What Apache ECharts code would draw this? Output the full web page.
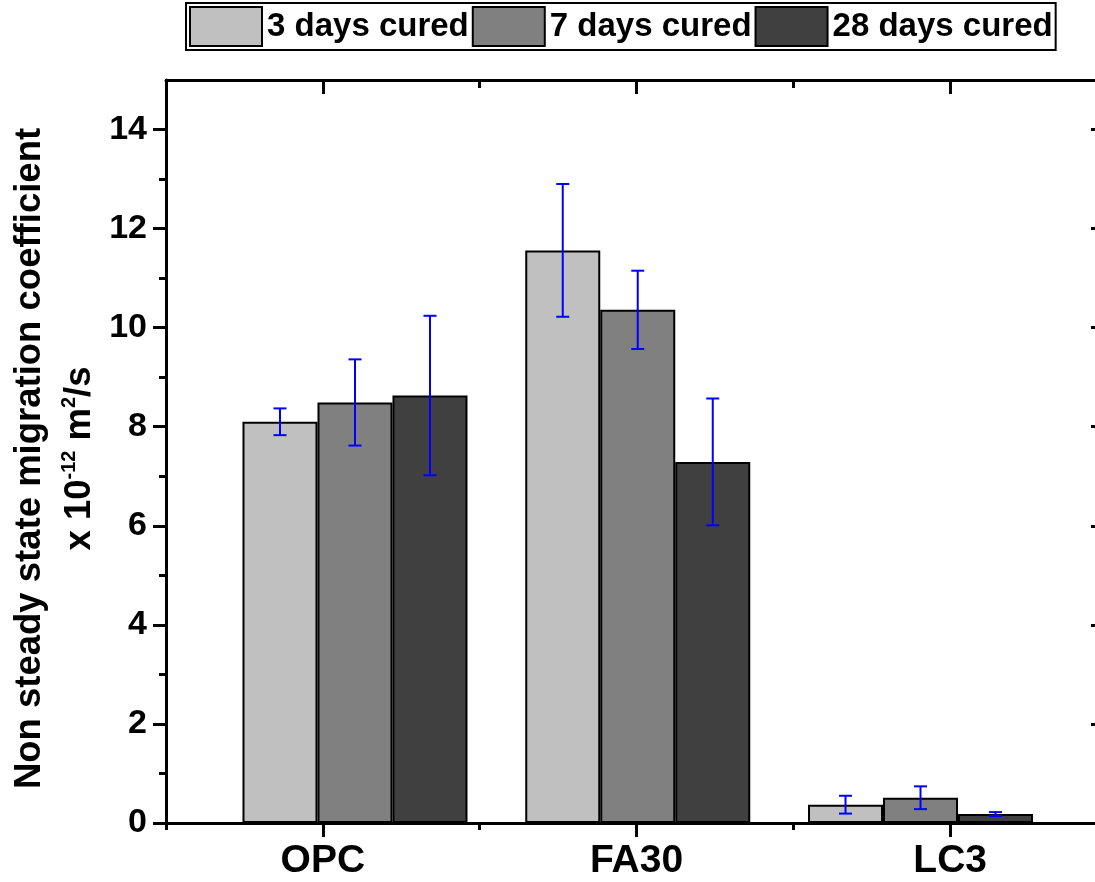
<!DOCTYPE html>
<html>
<head>
<meta charset="utf-8">
<script src="https://cdn.jsdelivr.net/npm/echarts@6/dist/echarts.min.js"></script>
<style>
  html, body { margin: 0; padding: 0; background: #fff; }
  #chart { width: 1095px; height: 882px; }
</style>
</head>
<body>
<div id="chart"></div>
<script>
// ---- data ----
const categories = ['OPC', 'FA30', 'LC3'];
const seriesNames = ['3 days cured', '7 days cured', '28 days cured'];
const days3 = [8.10, 11.56, 0.37];
const days7 = [8.49, 10.36, 0.51];
const days28 = [8.63, 7.29, 0.18];
const err3 = [0.27, 1.34, 0.18];
const err7 = [0.87, 0.79, 0.23];
const err28 = [1.61, 1.28, 0.04];
const yMajorTicks = [0, 2, 4, 6, 8, 10, 12, 14];
const yMinorTicks = [1, 3, 5, 7, 9, 11, 13];

// ---- styles ----
const FONT = '"Liberation Sans", Arial, sans-serif';
const barColors = ['#c0c0c0', '#808080', '#404040'];
const BAR_W = 75;
const CAP = 13;
function ax() { return { color: '#000', width: 3 }; }

const chart = echarts.init(document.getElementById('chart'), null, { renderer: 'canvas' });

function barSeries(name, values, idx) {
  return {
    type: 'bar', name: name, data: values,
    xAxisIndex: 4, yAxisIndex: 4,
    barWidth: BAR_W, barGap: '0%',
    itemStyle: { color: barColors[idx], borderColor: '#000', borderWidth: 2 },
    z: 2
  };
}

function errSeries(values, errs, idx) {
  return {
    type: 'custom', name: 'err' + idx,
    xAxisIndex: 4, yAxisIndex: 4, z: 5,
    data: values.map((v, i) => [i, v - errs[i], v + errs[i]]),
    encode: { x: 0, y: [1, 2] },
    renderItem: function (params, api) {
      const lo = api.coord([api.value(0), api.value(1)]);
      const hi = api.coord([api.value(0), api.value(2)]);
      const x = lo[0] + (idx - 1) * BAR_W;
      const c = CAP / 2;
      const st = { stroke: '#0000ff', lineWidth: 2 };
      return {
        type: 'group',
        children: [
          { type: 'line', shape: { x1: x, y1: hi[1], x2: x, y2: lo[1] }, style: st },
          { type: 'line', shape: { x1: x - c, y1: hi[1], x2: x + c, y2: hi[1] }, style: st },
          { type: 'line', shape: { x1: x - c, y1: lo[1], x2: x + c, y2: lo[1] }, style: st }
        ]
      };
    }
  };
}

const option = {
  backgroundColor: '#fff',
  animation: false,
  textStyle: { fontFamily: FONT },
  legend: {
    data: seriesNames,
    left: 186, top: 3,
    icon: 'rect',
    itemWidth: 72, itemHeight: 39, itemGap: 3,
    padding: [3, 3, 3, 3],
    borderColor: '#000', borderWidth: 2,
    textStyle: { fontFamily: FONT, fontSize: 33, fontWeight: 'bold', color: '#000' }
  },
  grid: [
    { left: 166, top: 80, width: 941, height: 743, containLabel: false, outerBoundsMode: 'none' },
    { left: 213.6, top: 80, width: 848.3, height: 743, containLabel: false, outerBoundsMode: 'none' }
  ],
  xAxis: [
    { // bottom main
      type: 'category', gridIndex: 0, position: 'bottom', data: categories,
      axisLine: { show: true, onZero: false, lineStyle: ax() },
      axisTick: { show: true, alignWithLabel: true, length: 14, lineStyle: ax() },
      axisLabel: { fontFamily: FONT, fontSize: 39, fontWeight: 'bold', color: '#000', margin: 19 },
      splitLine: { show: false }
    },
    { // bottom minor (category boundaries)
      type: 'category', gridIndex: 0, position: 'bottom', data: categories,
      axisLine: { show: false, onZero: false },
      axisTick: { show: true, interval: 0, length: 7, lineStyle: ax() },
      axisLabel: { show: false }, splitLine: { show: false }
    },
    { // top main
      type: 'category', gridIndex: 0, position: 'top', data: categories,
      axisLine: { show: true, onZero: false, lineStyle: ax() },
      axisTick: { show: true, alignWithLabel: true, inside: true, length: 14, lineStyle: ax() },
      axisLabel: { show: false }, splitLine: { show: false }
    },
    { // top minor
      type: 'category', gridIndex: 0, position: 'top', data: categories,
      axisLine: { show: false, onZero: false },
      axisTick: { show: true, interval: 0, inside: true, length: 8, lineStyle: ax() },
      axisLabel: { show: false }, splitLine: { show: false }
    },
    { // hidden axis for bars
      type: 'category', gridIndex: 1, data: categories, show: false
    }
  ],
  yAxis: [
    { // left main
      type: 'value', gridIndex: 0, position: 'left', min: 0, max: 15,
      axisLine: { show: true, onZero: false, lineStyle: ax() },
      axisTick: { show: true, length: 13, lineStyle: ax(), customValues: yMajorTicks },
      axisLabel: { fontFamily: FONT, fontSize: 34, fontWeight: 'bold', color: '#000', margin: 19, customValues: yMajorTicks },
      splitLine: { show: false },
      name: '{t|Non steady state migration coefficient}\n{t|x 10}{s|-12}{t| m}{s|2}{t|/s}',
      nameLocation: 'middle', nameRotate: 90, nameGap: 61, nameMoveOverlap: false,
      nameTextStyle: {
        fontFamily: FONT, fontSize: 36.5, fontWeight: 'bold', color: '#000', lineHeight: 50, align: 'center',
        padding: [0, 14, 0, 0],
        rich: {
          t: { fontFamily: FONT, fontSize: 36.5, fontWeight: 'bold', color: '#000', lineHeight: 50 },
          s: { fontFamily: FONT, fontSize: 20, fontWeight: 'bold', color: '#000', lineHeight: 50, verticalAlign: 'top', padding: [4, 0, 0, 0] }
        }
      }
    },
    { // left minor
      type: 'value', gridIndex: 0, position: 'left', min: 0, max: 15,
      axisLine: { show: false, onZero: false },
      axisTick: { show: true, length: 7, lineStyle: ax(), customValues: yMinorTicks },
      axisLabel: { show: false }, splitLine: { show: false }
    },
    { // right
      type: 'value', gridIndex: 0, position: 'right', min: 0, max: 15,
      axisLine: { show: true, onZero: false, lineStyle: ax() },
      axisTick: { show: true, inside: true, length: 16, lineStyle: ax(), customValues: yMajorTicks },
      axisLabel: { show: false }, splitLine: { show: false }
    },
    { // right minor
      type: 'value', gridIndex: 0, position: 'right', min: 0, max: 15,
      axisLine: { show: false, onZero: false },
      axisTick: { show: true, inside: true, length: 8, lineStyle: ax(), customValues: yMinorTicks },
      axisLabel: { show: false }, splitLine: { show: false }
    },
    { // hidden for bars
      type: 'value', gridIndex: 1, min: 0, max: 15, show: false
    }
  ],
  series: [
    barSeries(seriesNames[0], days3, 0),
    barSeries(seriesNames[1], days7, 1),
    barSeries(seriesNames[2], days28, 2),
    errSeries(days3, err3, 0),
    errSeries(days7, err7, 1),
    errSeries(days28, err28, 2)
  ]
};

chart.setOption(option);
</script>
</body>
</html>
